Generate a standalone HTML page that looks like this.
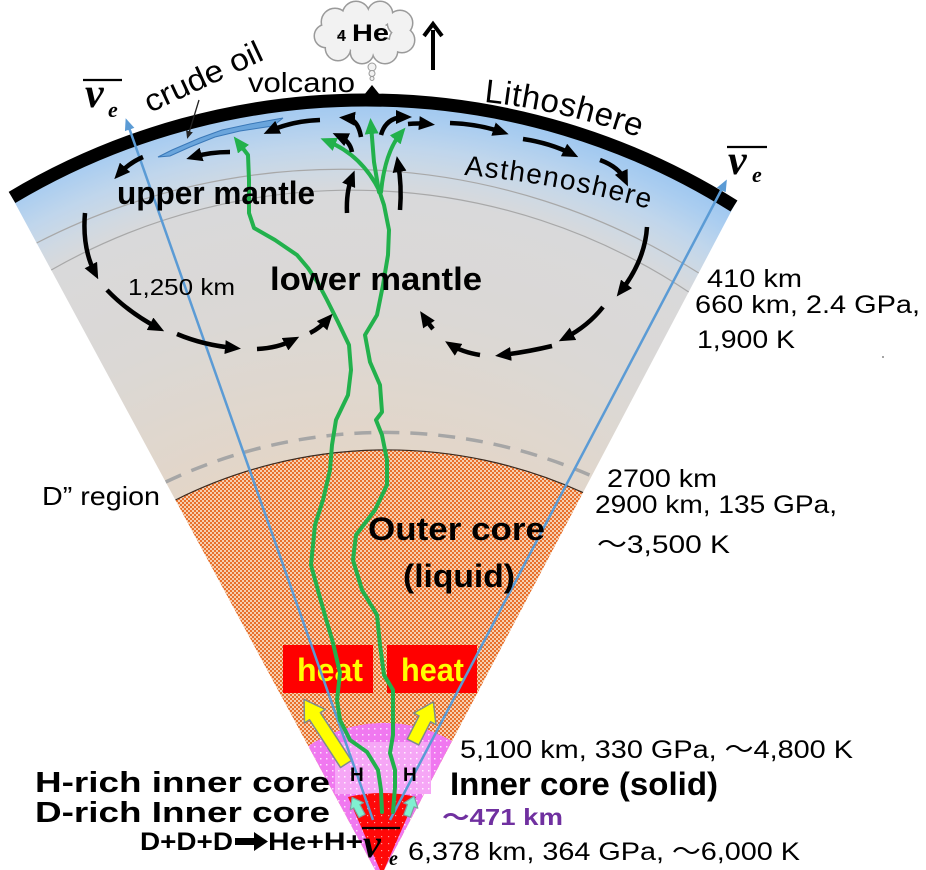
<!DOCTYPE html>
<html><head><meta charset="utf-8"><style>
html,body{margin:0;padding:0;background:#fff;overflow:hidden;width:926px;height:870px;}
#wrap{width:926px;height:870px;overflow:hidden;position:relative;}
svg{display:block;}
</style></head><body><div id="wrap">
<svg width="926" height="870" viewBox="0 0 926 870" xmlns="http://www.w3.org/2000/svg" font-family="'Liberation Sans','Noto Sans CJK JP',sans-serif">
<defs>
 <radialGradient id="g" gradientUnits="userSpaceOnUse" cx="350" cy="815" r="720">
  <stop offset="0.5" stop-color="#e3d6c8"/>
  <stop offset="0.7" stop-color="#dbd8d5"/>
  <stop offset="0.86" stop-color="#d9d9da"/>
  <stop offset="0.89" stop-color="#d0d9e2"/>
  <stop offset="0.93" stop-color="#c0d6ec"/>
  <stop offset="0.97" stop-color="#aacdf0"/>
  <stop offset="1" stop-color="#9cc6f0"/>
 </radialGradient>
 <pattern id="po" width="4" height="4" patternUnits="userSpaceOnUse"><rect width="4" height="4" fill="#f6cfb0"/><rect width="2" height="2" fill="#e8702c"/><rect x="2" y="2" width="2" height="2" fill="#e8702c"/></pattern>
 <pattern id="pp" width="6" height="6" patternUnits="userSpaceOnUse"><rect width="6" height="6" fill="#f078f0"/><rect x="2" y="2" width="1.5" height="1.5" fill="#fde0fd"/></pattern>
 <pattern id="pl" width="6" height="6" patternUnits="userSpaceOnUse"><rect width="6" height="6" fill="#f6a6f6"/><rect x="2" y="2" width="1.5" height="1.5" fill="#fff0ff"/></pattern>
 <pattern id="pr" width="7" height="7" patternUnits="userSpaceOnUse"><rect width="7" height="7" fill="#ff0808"/><rect x="3" y="3" width="1.2" height="1.2" fill="#ff9a9a"/></pattern>
 <marker id="ab" markerUnits="userSpaceOnUse" markerWidth="16" markerHeight="14" viewBox="0 0 16 14" refX="9" refY="7" orient="auto"><path d="M0,0 L16,7 L0,14 z" fill="#000"/></marker>
 <marker id="ag" markerUnits="userSpaceOnUse" markerWidth="16" markerHeight="14" viewBox="0 0 16 14" refX="9" refY="7" orient="auto"><path d="M0,0 L16,7 L0,14 z" fill="#22b14c"/></marker>
 <marker id="abl" markerUnits="userSpaceOnUse" markerWidth="12" markerHeight="10" viewBox="0 0 12 10" refX="8" refY="5" orient="auto"><path d="M0,0 L12,5 L0,10 z" fill="#5b9bd5"/></marker>
 <marker id="ak" markerUnits="userSpaceOnUse" markerWidth="8" markerHeight="7" viewBox="0 0 8 7" refX="5" refY="3.5" orient="auto"><path d="M0,0 L8,3.5 L0,7 z" fill="#222"/></marker>
</defs>

<rect width="926" height="870" fill="#fff"/>

<!-- wedge -->
<path d="M375.2 870 L12 197.4 A692 692 0 0 1 734 206 L384.1 870 Z" fill="url(#g)"/>
<path d="M36.6 243 A667 667 0 0 1 698.7 273" fill="none" stroke="#a8a8a8" stroke-width="1.2"/>
<path d="M51.2 270 A607.3 607.3 0 0 1 688.7 292" fill="none" stroke="#a8a8a8" stroke-width="1.2"/>
<path d="M165.7 482 A511 511 0 0 1 591.7 476" fill="none" stroke="#a6a6a6" stroke-width="3.5" stroke-dasharray="17 11"/>
<path d="M175.5 500 A471.8 471.8 0 0 1 583 492.6 L384.1 870 L375.2 870 Z" fill="url(#po)"/>
<path d="M175.5 500 A471.8 471.8 0 0 1 583 492.6" fill="none" stroke="#3a2a20" stroke-width="1.2"/>
<path d="M308.3 746 A136.3 136.3 0 0 1 452 741 L384.1 870 L375.2 870 Z" fill="url(#pp)"/>
<rect x="335" y="742" width="96" height="52" fill="url(#pl)"/>
<path d="M348 797 Q383 789 416 797 L384 870 L380 870 Z" fill="url(#pr)"/>

<!-- lithosphere band -->
<path d="M12 197.4 A692 692 0 0 1 734 206" fill="none" stroke="#000" stroke-width="13"/>
<path d="M372 85 L364 95 L380 95 Z" fill="#000"/>

<!-- crude oil -->
<path d="M158 157 L172 150 L200 138 L222 130 L250 124 L283 118 L273 126 L240 131 L215 137 L190 147 L170 156 Z" fill="#6aa5dc" stroke="#3a78b8" stroke-width="1"/>
<line x1="199" y1="100" x2="188" y2="136" stroke="#222" stroke-width="1.3" marker-end="url(#ak)"/>

<!-- cloud -->
<g stroke="#9a9a9a" stroke-width="3" fill="#9a9a9a">
 <circle cx="335" cy="22" r="13"/><circle cx="356" cy="15" r="13"/><circle cx="380" cy="14" r="12"/>
 <circle cx="400" cy="23" r="12"/><circle cx="402" cy="40" r="12"/><circle cx="385" cy="51" r="12"/>
 <circle cx="362" cy="52" r="11"/><circle cx="338" cy="48" r="12"/><circle cx="326" cy="36" r="11"/>
</g>
<g fill="#f2f2f2">
 <circle cx="335" cy="22" r="13"/><circle cx="356" cy="15" r="13"/><circle cx="380" cy="14" r="12"/>
 <circle cx="400" cy="23" r="12"/><circle cx="402" cy="40" r="12"/><circle cx="385" cy="51" r="12"/>
 <circle cx="362" cy="52" r="11"/><circle cx="338" cy="48" r="12"/><circle cx="326" cy="36" r="11"/>
 <circle cx="365" cy="33" r="22"/>
</g>
<circle cx="372" cy="67" r="4" fill="#f2f2f2" stroke="#9a9a9a" stroke-width="1"/>
<circle cx="372" cy="73.5" r="3" fill="#f2f2f2" stroke="#9a9a9a" stroke-width="1"/>
<circle cx="372" cy="78.5" r="2" fill="#f2f2f2" stroke="#9a9a9a" stroke-width="1"/>
<text x="337" y="41" font-size="16" font-weight="bold">4</text>
<text x="352" y="41" font-size="24" font-weight="bold" textLength="37" lengthAdjust="spacingAndGlyphs">He</text>
<!-- up arrow -->
<line x1="433" y1="70" x2="433" y2="30" stroke="#000" stroke-width="4"/>
<path d="M424 36 L433 24 L442 36" fill="none" stroke="#000" stroke-width="4" stroke-linejoin="miter"/>

<!-- heat boxes -->
<rect x="283" y="645" width="90" height="48" fill="#ff0000"/>
<rect x="387" y="645" width="90" height="48" fill="#ff0000"/>
<text x="297" y="681" font-size="32" font-weight="bold" fill="#ffff00" textLength="66" lengthAdjust="spacingAndGlyphs">heat</text>
<text x="401" y="681" font-size="32" font-weight="bold" fill="#ffff00" textLength="63" lengthAdjust="spacingAndGlyphs">heat</text>

<!-- yellow arrows -->
<g fill="#ffff00" stroke="#7f8c8d" stroke-width="1.5" stroke-linejoin="round">
 <polygon transform="translate(346,764) rotate(-33)" points="-6.5,0 -6.5,-57 -12.5,-57 0,-77 12.5,-57 6.5,-57 6.5,0"/>
 <polygon transform="translate(413,742) rotate(27)" points="-6.5,0 -6.5,-26 -12.5,-26 0,-45 12.5,-26 6.5,-26 6.5,0"/>
</g>
<!-- cyan arrows -->
<g fill="#80f0d0" stroke="#7f9f9f" stroke-width="1.2" stroke-linejoin="round">
 <polygon transform="translate(362,816) rotate(-28)" points="-3.5,0 -3.5,-11 -7.5,-11 0,-21 7.5,-11 3.5,-11 3.5,0"/>
 <polygon transform="translate(407,816) rotate(20)" points="-3.5,0 -3.5,-11 -7.5,-11 0,-21 7.5,-11 3.5,-11 3.5,0"/>
</g>

<!-- neutrino lines -->
<line x1="373" y1="820" x2="127" y2="122" stroke="#5b9bd5" stroke-width="2.5" marker-end="url(#abl)"/>
<line x1="390" y1="820" x2="725" y2="183" stroke="#5b9bd5" stroke-width="2.5" marker-end="url(#abl)"/>

<!-- green plumes -->
<g fill="none" stroke="#22b14c" stroke-width="4" stroke-linejoin="round" stroke-linecap="round">
 <path marker-end="url(#ag)" d="M382 812 L381 790 L378 770 L367 752 L350 740 L340 720 L337 700 L340 673 L333 643 L322 605 L311 565 L315 525 L323 500 L330 470 L332 445 L336 420 L348 395 L351 370 L349 345 L338 322 L327 300 L318 283 L308 268 L297 255 L275 240 L254 228 L249 213 L249 180 L248 155 L238 142"/>
 <path d="M393 812 L395 787 L395 770 L390 753 L393 735 L393 705 L393 690 L384 675 L380 645 L377 615 L362 590 L353 560 L356 535 L375 510 L387 485 L387 460 L382 435 L376 420 L382 412 L380 385 L370 362 L365 335 L377 315 L383 285 L388 255 L389 230 L384 205 L379 190"/>
 <path marker-end="url(#ag)" d="M379 192 L374 162 L371 125"/>
 <path marker-end="url(#ag)" d="M380 192 Q362 155 327 141"/>
 <path marker-end="url(#ag)" d="M381 192 Q385 152 401 133"/>
</g>

<!-- black convection arrows -->
<g fill="none" stroke="#000" stroke-width="4.5" marker-end="url(#ab)">
 <path d="M320 120 Q292 121 270 131"/>
 <path d="M230 152 Q210 152 193 157"/>
 <path d="M143 157 Q129 163 119 174"/>
 <path d="M361 137 Q358 119 346 118"/>
 <path d="M381 135 Q386 117 405 117"/>
 <path d="M408 124 Q418 123 428 124"/>
 <path d="M450 123 Q478 124 502 132"/>
 <path d="M523 139 Q550 143 572 154"/>
 <path d="M600 160 Q619 167 625 180"/>
 <path d="M352 152 Q350 141 339 136"/>
 <path d="M347 213 Q346 192 352 177"/>
 <path d="M400 210 Q402 186 398 163"/>
 <path d="M85 213 Q82 248 95 273"/>
 <path d="M107 290 Q128 312 158 328"/>
 <path d="M177 334 Q203 345 234 348"/>
 <path d="M257 349 Q278 348 293 340"/>
 <path d="M310 333 Q320 328 328 319"/>
 <path d="M647 227 Q645 260 621 291"/>
 <path d="M603 307 Q588 326 565 338"/>
 <path d="M552 346 Q527 352 502 355"/>
 <path d="M480 355 Q462 352 451 345"/>
 <path d="M433 329 Q428 323 424 317"/>
</g>

<!-- curved labels -->
<path id="lp" d="M484 102 Q565 110 652 142" fill="none"/>
<path id="ap" d="M464 175 Q560 183 660 212" fill="none"/>
<text font-size="33" letter-spacing="0.6"><textPath href="#lp">Lithoshere</textPath></text>
<text font-size="28" letter-spacing="1.4"><textPath href="#ap">Asthenoshere</textPath></text>
<text transform="translate(150,113) rotate(-25)" font-size="31" textLength="127" lengthAdjust="spacingAndGlyphs">crude oil</text>
<text x="248" y="92" font-size="28" textLength="107" lengthAdjust="spacingAndGlyphs">volcano</text>

<!-- neutrino symbols -->
<line x1="83" y1="80" x2="122" y2="80" stroke="#000" stroke-width="2.2"/>
<text x="85" y="107" font-family="'Liberation Serif','DejaVu Serif',serif" font-size="42" font-weight="bold" font-style="italic">ν</text>
<text x="108" y="117" font-family="'Liberation Serif','DejaVu Serif',serif" font-size="22" font-weight="bold" font-style="italic">e</text>
<line x1="727" y1="147" x2="767" y2="147" stroke="#000" stroke-width="2.2"/>
<text x="728" y="174" font-family="'Liberation Serif','DejaVu Serif',serif" font-size="42" font-weight="bold" font-style="italic">ν</text>
<text x="752" y="182" font-family="'Liberation Serif','DejaVu Serif',serif" font-size="22" font-weight="bold" font-style="italic">e</text>

<!-- labels -->
<text x="117" y="204" font-size="32" font-weight="bold" textLength="198" lengthAdjust="spacingAndGlyphs">upper mantle</text>
<text x="270" y="290" font-size="32" font-weight="bold" textLength="212" lengthAdjust="spacingAndGlyphs">lower mantle</text>
<text x="128" y="295" font-size="23" textLength="107" lengthAdjust="spacingAndGlyphs">1,250 km</text>
<text x="707" y="287" font-size="25" textLength="95" lengthAdjust="spacingAndGlyphs">410 km</text>
<text x="695" y="313" font-size="25" textLength="225" lengthAdjust="spacingAndGlyphs">660 km, 2.4 GPa,</text>
<text x="697" y="348" font-size="25" textLength="98" lengthAdjust="spacingAndGlyphs">1,900 K</text>
<circle cx="883" cy="357" r="1" fill="#888"/>
<text x="607" y="487" font-size="25" textLength="110" lengthAdjust="spacingAndGlyphs">2700 km</text>
<text x="595" y="513" font-size="25" textLength="242" lengthAdjust="spacingAndGlyphs">2900 km, 135 GPa,</text>
<text x="597" y="553" font-size="25" textLength="133" lengthAdjust="spacingAndGlyphs">～3,500 K</text>
<text x="42" y="505" font-size="26" textLength="118" lengthAdjust="spacingAndGlyphs">D” region</text>
<text x="368" y="540" font-size="32" font-weight="bold" textLength="177" lengthAdjust="spacingAndGlyphs">Outer core</text>
<text x="403" y="587" font-size="32" font-weight="bold" textLength="112" lengthAdjust="spacingAndGlyphs">(liquid)</text>
<text x="460" y="758" font-size="25" textLength="393" lengthAdjust="spacingAndGlyphs">5,100 km, 330 GPa, ～4,800 K</text>
<text x="450" y="795" font-size="32" font-weight="bold" textLength="268" lengthAdjust="spacingAndGlyphs">Inner core (solid)</text>
<text x="442" y="825" font-size="23" font-weight="bold" fill="#7030a0" textLength="121" lengthAdjust="spacingAndGlyphs">～471 km</text>
<text x="408" y="860" font-size="25" textLength="392" lengthAdjust="spacingAndGlyphs">6,378 km, 364 GPa, ～6,000 K</text>
<text x="35" y="792" font-size="29" font-weight="bold" textLength="295" lengthAdjust="spacingAndGlyphs">H-rich inner core</text>
<text x="35" y="822" font-size="29" font-weight="bold" textLength="295" lengthAdjust="spacingAndGlyphs">D-rich Inner core</text>
<text x="350" y="781" font-size="19" font-weight="bold">H</text>
<text x="403" y="781" font-size="19" font-weight="bold">H</text>
<text x="140" y="850" font-size="25" font-weight="bold" textLength="93" lengthAdjust="spacingAndGlyphs">D+D+D</text>
<rect x="235" y="838" width="20" height="7" fill="#000"/>
<path d="M254 832 L268 841.5 L254 851 Z" fill="#000"/>
<text x="268" y="850" font-size="25" font-weight="bold" textLength="95" lengthAdjust="spacingAndGlyphs">He+H+</text>
<line x1="362" y1="828" x2="400" y2="828" stroke="#000" stroke-width="2.2"/>
<text x="363" y="857" font-family="'Liberation Serif','DejaVu Serif',serif" font-size="40" font-weight="bold" font-style="italic">ν</text>
<text x="389" y="865" font-family="'Liberation Serif','DejaVu Serif',serif" font-size="20" font-weight="bold" font-style="italic">e</text>
</svg>
</div></body></html>
